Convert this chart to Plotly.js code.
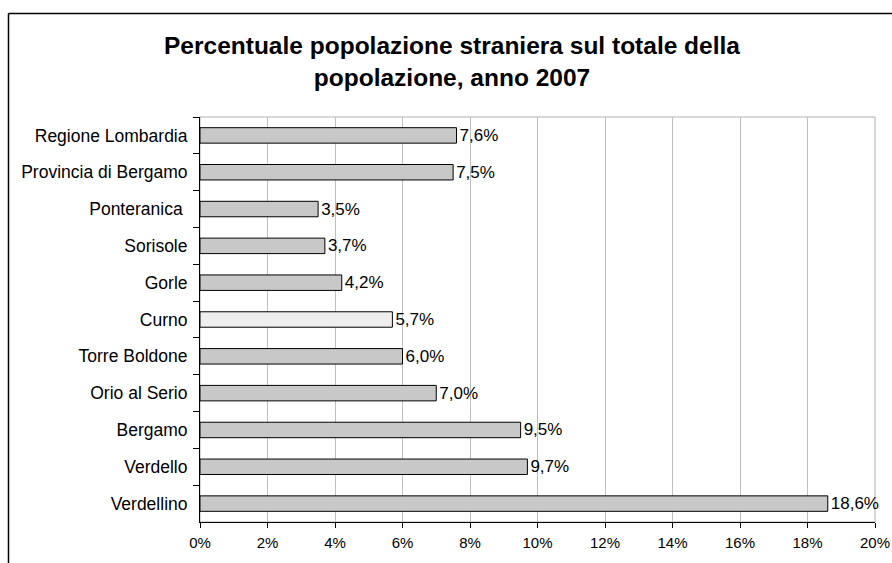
<!DOCTYPE html>
<html>
<head>
<meta charset="utf-8">
<script src="https://cdn.plot.ly/plotly-3.0.1.min.js"></script>
<style>body{margin:0;padding:0;background:#fff;}</style>
</head>
<body>
<div id="chart" style="width:892px;height:563px;"></div>
<script>
const categories = ["Regione Lombardia", "Provincia di Bergamo", "Ponteranica\u00a0", "Sorisole", "Gorle", "Curno", "Torre Boldone", "Orio al Serio", "Bergamo", "Verdello", "Verdellino"];
const values = [7.6, 7.5, 3.5, 3.7, 4.2, 5.7, 6.0, 7.0, 9.5, 9.7, 18.6];
const valueLabels = ["7,6%", "7,5%", "3,5%", "3,7%", "4,2%", "5,7%", "6,0%", "7,0%", "9,5%", "9,7%", "18,6%"];
const highlighted = "Curno";
const xTickVals = [0, 2, 4, 6, 8, 10, 12, 14, 16, 18, 20];
const xTickText = ["0%", "2%", "4%", "6%", "8%", "10%", "12%", "14%", "16%", "18%", "20%"];

const font = "Liberation Sans, Arial, sans-serif";
const colors = categories.map(c => c === highlighted ? "#eeeeee" : "#c8c8c8");

const trace = {
  type: "bar",
  orientation: "h",
  y: categories,
  x: values,
  text: valueLabels,
  textposition: "outside",
  constraintext: "none",
  cliponaxis: false,
  textfont: {family: font, size: 17, color: "#000"},
  marker: {color: colors, line: {color: "#000", width: 1}},
  width: 0.42,
  hoverinfo: "none"
};

// plot area pixel geometry (for outer frame in paper coords)
const L = 200, R = 17, T = 117, B = 41, W = 892, H = 563;
const pw = W - L - R, ph = H - T - B;
const px = x => (x - L) / pw;
const py = y => (H - B - y) / ph;

const layout = {
  width: W, height: H,
  margin: {l: L, r: R, t: T, b: B, pad: 0},
  paper_bgcolor: "#fff",
  plot_bgcolor: "#fff",
  showlegend: false,
  font: {family: font, size: 17, color: "#000"},
  title: {
    text: "<b>Percentuale popolazione straniera sul totale della<br>popolazione, anno 2007</b>",
    font: {family: font, size: 24.5, color: "#000"},
    x: 452/892, xref: "container", xanchor: "center",
    y: 1 - 54/563, yref: "container", yanchor: "top"
  },
  xaxis: {
    range: [0, 20],
    tickvals: xTickVals,
    ticktext: xTickText,
    showgrid: true, gridcolor: "#c0c0c0", gridwidth: 1,
    zeroline: false,
    showline: true, linecolor: "#000", linewidth: 1,
    ticks: "outside", ticklen: 5, tickcolor: "#000",
    ticklabelstandoff: 2,
    tickfont: {family: font, size: 15, color: "#000"},
    fixedrange: true
  },
  yaxis: {
    type: "category",
    autorange: "reversed",
    showgrid: false,
    zeroline: false,
    showline: true, linecolor: "#000", linewidth: 1,
    ticks: "outside", ticklen: 6, tickcolor: "#000",
    tickson: "boundaries",
    ticklabelstandoff: 8,
    tickfont: {family: font, size: 17.5, color: "#000"},
    fixedrange: true
  },
  shapes: [
    {type: "rect", xref: "paper", yref: "paper", x0: 0, x1: 1, y0: 0, y1: 1,
     line: {color: "#b0b0b0", width: 1}, layer: "below"},
    {type: "line", xref: "paper", yref: "paper", x0: px(8.5), x1: px(900), y0: py(13.5), y1: py(13.5),
     line: {color: "#000", width: 1.5}},
    {type: "line", xref: "paper", yref: "paper", x0: px(8.5), x1: px(8.5), y0: py(13.5), y1: py(580),
     line: {color: "#000", width: 1.5}}
  ]
};

Plotly.newPlot("chart", [trace], layout, {displayModeBar: false, staticPlot: true});
</script>
</body>
</html>
